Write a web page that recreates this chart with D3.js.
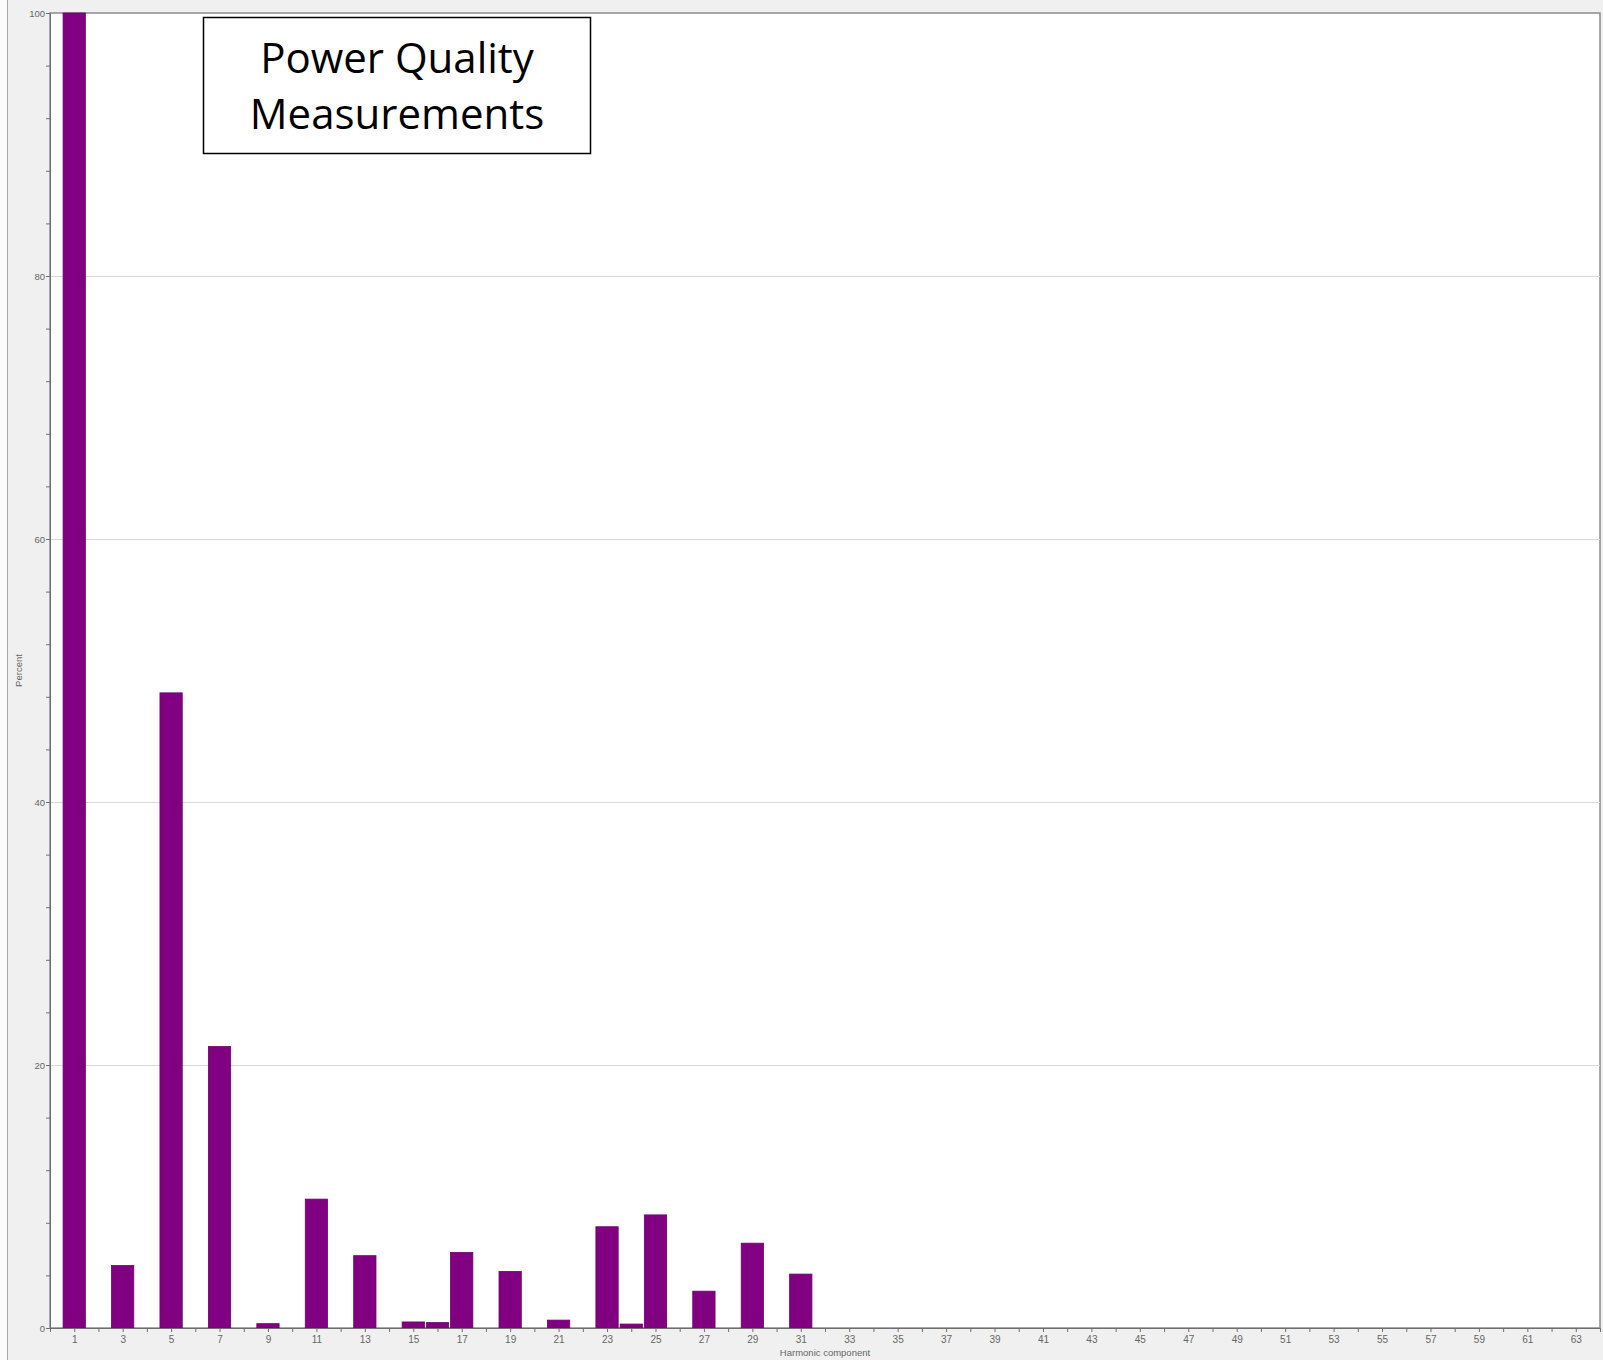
<!DOCTYPE html>
<html>
<head>
<meta charset="utf-8">
<script src="https://cdn.jsdelivr.net/npm/d3@7"></script>
<style>
  html, body { margin: 0; padding: 0; background: #fff; }
  svg { display: block; }
</style>
</head>
<body>
<div id="chart"></div>
<script>
// harmonic order -> percent of fundamental
const harmonics = [1, 3, 5, 7, 9, 11, 13, 15, 16, 17, 19, 21, 23, 24, 25, 27, 29, 31]
const percent = [100, 4.75, 48.3, 21.4, 0.33, 9.8, 5.5, 0.46, 0.41, 5.75, 4.3, 0.6, 7.7, 0.3, 8.6, 2.8, 6.45, 4.1]
const yTicks = [0, 20, 40, 60, 80, 100]
const xTickLabels = d3.range(1, 64, 2)

const width = 1603
const height = 1360
const plot = { left: 50, right: 1600, top: 13, bottom: 1328 }

const svg = d3.select('#chart')
  .append('svg')
  .attr('width', width)
  .attr('height', height)

// window panel
svg.append('rect')
  .attr('width', width).attr('height', height)
  .attr('fill', '#f0f0f0')
svg.append('rect')
  .attr('width', 7).attr('height', height)
  .attr('fill', '#fbfbfb')
svg.append('line')
  .attr('x1', 7.5).attr('x2', 7.5)
  .attr('y1', 0).attr('y2', height)
  .attr('stroke', '#a8a8a8')

const x = d3.scaleLinear().domain([0, 64]).range([plot.left, plot.right])
const y = d3.scaleLinear().domain([0, 100]).range([plot.bottom, plot.top])
const band = x(1) - x(0)

svg.append('rect')
  .attr('x', plot.left).attr('y', plot.top)
  .attr('width', plot.right - plot.left)
  .attr('height', plot.bottom - plot.top)
  .attr('fill', '#fff')
  .attr('stroke', '#8c8c8c')
  .attr('stroke-width', 1.5)

// gridlines
svg.append('g')
  .selectAll('line')
  .data(yTicks.filter(d => d > 0 && d < 100))
  .join('line')
  .attr('x1', plot.left).attr('x2', plot.right)
  .attr('y1', d => Math.round(y(d)) + 0.5)
  .attr('y2', d => Math.round(y(d)) + 0.5)
  .attr('stroke', '#d9d9d9')

// bars
svg.append('g')
  .selectAll('rect')
  .data(harmonics.map((h, i) => ({ h, v: percent[i] })))
  .join('rect')
  .attr('x', d => x(d.h) - band * 0.46)
  .attr('width', band * 0.92)
  .attr('y', d => y(d.v))
  .attr('height', d => y(0) - y(d.v))
  .attr('fill', '#810081')
  .attr('stroke', '#6c006c')
  .attr('stroke-width', 0.8)

// y axis
const yAxis = svg.append('g')
  .attr('transform', `translate(${plot.left},0)`)
  .call(d3.axisLeft(y).tickValues(d3.range(0, 101, 4)).tickSize(4)
    .tickFormat(d => yTicks.includes(d) ? d : ''))
yAxis.select('.domain').attr('stroke', '#6e6e6e')
yAxis.selectAll('.tick line').attr('stroke', '#6e6e6e')
yAxis.selectAll('text')
  .attr('fill', '#666')
  .attr('font-family', 'Liberation Sans, Arial, sans-serif')
  .attr('font-size', 9.5)
  .attr('x', -5)

// x axis
const xAxis = svg.append('g')
  .attr('transform', `translate(0,${plot.bottom})`)
  .call(d3.axisBottom(x).tickValues(d3.range(1, 64)).tickSize(4)
    .tickFormat(d => xTickLabels.includes(d) ? d : ''))
xAxis.select('.domain').attr('stroke', '#6e6e6e')
xAxis.selectAll('.tick line').attr('stroke', '#6e6e6e')
xAxis.selectAll('text')
  .attr('fill', '#666')
  .attr('font-family', 'Liberation Sans, Arial, sans-serif')
  .attr('font-size', 10)
  .attr('y', 8)

svg.append('text')
  .attr('x', (plot.left + plot.right) / 2)
  .attr('y', 1356)
  .attr('text-anchor', 'middle')
  .attr('fill', '#666')
  .attr('font-family', 'Liberation Sans, Arial, sans-serif')
  .attr('font-size', 9.5)
  .text('Harmonic component')

svg.append('text')
  .attr('transform', `translate(22,${(plot.top + plot.bottom) / 2}) rotate(-90)`)
  .attr('text-anchor', 'middle')
  .attr('fill', '#666')
  .attr('font-family', 'Liberation Sans, Arial, sans-serif')
  .attr('font-size', 9.5)
  .text('Percent')

// annotation box
const note = svg.append('g')
note.append('rect')
  .attr('x', 203.5).attr('y', 17.5)
  .attr('width', 387).attr('height', 136)
  .attr('fill', '#fff')
  .attr('stroke', '#000')
  .attr('stroke-width', 1.5)
note.selectAll('text')
  .data(['Power Quality', 'Measurements'])
  .join('text')
  .attr('x', 397)
  .attr('y', (d, i) => 73 + i * 56)
  .attr('text-anchor', 'middle')
  .attr('fill', '#000')
  .attr('font-family', 'Open Sans, Noto Sans, sans-serif')
  .attr('font-size', 42)
  .text(d => d)
</script>
</body>
</html>
